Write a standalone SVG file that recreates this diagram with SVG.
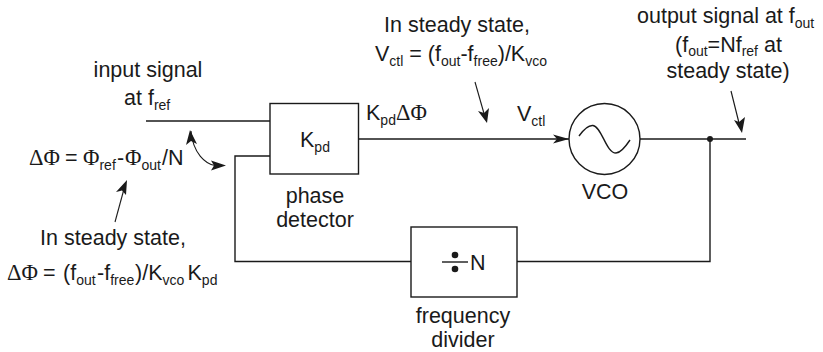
<svg xmlns="http://www.w3.org/2000/svg" width="823" height="352" viewBox="0 0 823 352">
<style>
text{font-family:"Liberation Sans",Arial,sans-serif;font-size:21.500px;fill:#1a1a1a}
.m{text-anchor:middle}
.s{font-size:14px}
.g{font-family:"Liberation Serif","Times New Roman",serif;font-size:22.500px}
.l{fill:none;stroke:#1a1a1a;stroke-width:1.4}
.a{fill:none;stroke:#1a1a1a;stroke-width:1.1}
.h{fill:#1a1a1a}
</style>
<rect width="823" height="352" fill="#fff"/>
<g id="connectors">
<path class="l" d="M146 121H270"/>
<path class="l" d="M270 156H235V261.500H411"/>
<path class="l" d="M358 139H569"/>
<path class="h" d="M569 139L553 134.500L557 139L553 143.500Z"/>
<path class="l" d="M640 139H746"/>
<path class="l" d="M517 261.500H710V139"/>
<circle class="h" cx="710" cy="139" r="3"/>
<path class="a" d="M191 131C193 154 206 164 215 165.500"/>
<path class="h" d="M190 130L186 145L191 141L197 144Z"/>
<path class="h" d="M226 165.500L211 160.500L214 165.500L211 170.500Z"/>
<path class="a" d="M115 222L124 189"/>
<path class="h" d="M127 180L116 192L122 190.500L126 195Z"/>
<path class="a" d="M475 82L485 117"/>
<path class="h" d="M487 123L478 111L484 113L489 108Z"/>
<path class="a" d="M731 91L740 127"/>
<path class="h" d="M742 133L734 120L739 122L745 117Z"/>
</g>
<g id="phase-detector">
<rect class="l" x="270" y="103.500" width="88.500" height="70.500" fill="#fff"/>
<text x="300" y="147">K<tspan class="s" dy="5">pd</tspan></text>
<text class="m" x="315" y="203">phase</text>
<text class="m" x="315" y="227">detector</text>
</g>
<g id="vco">
<circle class="l" cx="604.500" cy="139" r="35.500" fill="#fff"/>
<path class="l" d="M579 136C584 129 589 125 593 125.500C602 127 606 153 616 153C621 153 626 146 630 140"/>
<text class="m" x="605" y="199">VCO</text>
</g>
<g id="frequency-divider">
<rect class="l" x="411" y="227" width="106" height="70"/>
<path class="l" d="M442 262H468"/>
<circle class="h" cx="455" cy="255" r="3.300"/>
<circle class="h" cx="455" cy="269" r="3.300"/>
<text x="470" y="270">N</text>
<text class="m" x="463" y="323">frequency</text>
<text class="m" x="463" y="347">divider</text>
</g>
<g id="labels">
<text class="m" x="148" y="77">input signal</text>
<text x="124" y="105">at f<tspan class="s" dy="5">ref</tspan></text>
<text y="165"><tspan class="g" x="29">ΔΦ</tspan><tspan x="65">=</tspan><tspan class="g" x="83">Φ</tspan><tspan class="s" dy="5">ref</tspan><tspan dy="-5" x="117">-</tspan><tspan class="g" x="125">Φ</tspan><tspan class="s" dy="5">out</tspan><tspan dy="-5" x="162">/N</tspan></text>
<text class="m" x="113" y="245">In steady state,</text>
<text y="280"><tspan class="g" x="7">ΔΦ</tspan><tspan x="43">=</tspan><tspan x="63">(f</tspan><tspan class="s" dy="5">out</tspan><tspan dy="-5" x="97">-f</tspan><tspan class="s" dy="5">free</tspan><tspan dy="-5" x="135">)/K</tspan><tspan class="s" dy="5">vco</tspan><tspan dy="-5" x="187.500">K</tspan><tspan class="s" dy="5">pd</tspan></text>
<text class="m" x="457" y="32">In steady state,</text>
<text x="375" y="61">V<tspan class="s" dy="5">ctl</tspan><tspan dy="-5"> = (f</tspan><tspan class="s" dy="5">out</tspan><tspan dy="-5">-f</tspan><tspan class="s" dy="5">free</tspan><tspan dy="-5">)/K</tspan><tspan class="s" dy="5">vco</tspan></text>
<text x="366" y="120">K<tspan class="s" dy="5">pd</tspan><tspan class="g" dy="-5">ΔΦ</tspan></text>
<text x="517" y="121">V<tspan class="s" dy="5">ctl</tspan></text>
<text x="637" y="23">output signal at f<tspan class="s" dy="5">out</tspan></text>
<text x="675" y="52">(f<tspan class="s" dy="4">out</tspan><tspan dy="-4">=Nf</tspan><tspan class="s" dy="4">ref</tspan><tspan dy="-4"> at</tspan></text>
<text class="m" x="728" y="78">steady state)</text>
</g>
</svg>
